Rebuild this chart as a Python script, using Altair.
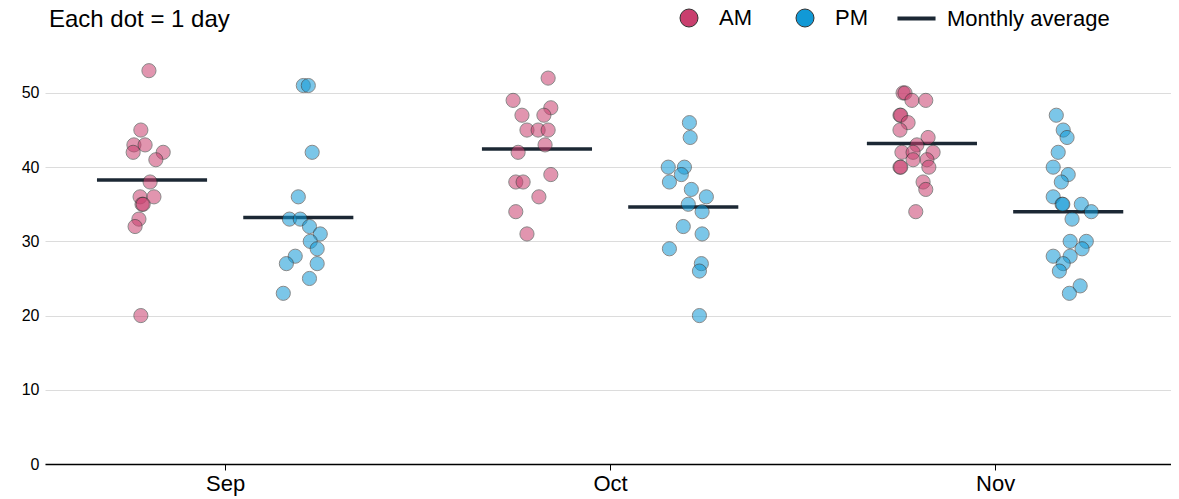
import altair as alt
import pandas as pd

title_text = "Each dot = 1 day"
months = ["Sep", "Oct", "Nov"]
periods = ["AM", "PM"]
avg_label = "Monthly average"

# values (one dot per day)
sep_am = [53, 45, 43, 43, 42, 42, 41, 38, 36, 36, 35, 35, 33, 32, 20]
sep_pm = [51, 51, 42, 36, 33, 33, 32, 31, 30, 29, 28, 27, 27, 25, 23]
oct_am = [52, 49, 48, 47, 47, 45, 45, 45, 43, 42, 39, 38, 38, 36, 34, 31]
oct_pm = [46, 44, 40, 40, 39, 38, 37, 36, 35, 34, 32, 31, 29, 27, 26, 20]
nov_am = [50, 50, 49, 49, 47, 47, 46, 45, 44, 43, 42, 42, 42, 41, 41, 40, 40, 40, 38, 37, 34]
nov_pm = [47, 45, 44, 42, 40, 39, 38, 36, 35, 35, 35, 34, 33, 30, 30, 29, 28, 28, 27, 26, 24, 23]

# horizontal jitter of each dot (fraction of month spacing)
sep_am_jit = [-0.008, -0.029, -0.047, -0.018, -0.049, 0.029, 0.010, -0.005, -0.031, 0.005, -0.026, -0.023, -0.034, -0.044, -0.029]
sep_pm_jit = [0.013, 0.026, 0.036, 0.0, -0.023, 0.005, 0.029, 0.057, 0.031, 0.049, -0.008, -0.031, 0.049, 0.029, -0.039]
oct_am_jit = [0.029, -0.062, 0.036, 0.018, -0.039, -0.026, 0.003, 0.029, 0.021, -0.049, 0.036, -0.055, -0.036, 0.005, -0.055, -0.026]
oct_pm_jit = [0.016, 0.018, -0.039, 0.003, -0.005, -0.036, 0.021, 0.060, 0.013, 0.049, 0.0, 0.049, -0.036, 0.047, 0.042, 0.042]
nov_am_jit = [-0.049, -0.044, -0.026, 0.010, -0.057, -0.055, -0.036, -0.057, 0.016, -0.013, -0.052, -0.023, 0.029, 0.013, -0.023, 0.018, -0.057, -0.055, 0.003, 0.010, -0.016]
nov_pm_jit = [-0.031, -0.013, -0.003, -0.026, -0.039, 0.0, -0.018, -0.039, -0.016, -0.014, 0.034, 0.060, 0.010, 0.005, 0.047, 0.036, -0.039, 0.005, -0.013, -0.023, 0.031, 0.003]

groups = [
    ("Sep", "AM", sep_am, sep_am_jit),
    ("Sep", "PM", sep_pm, sep_pm_jit),
    ("Oct", "AM", oct_am, oct_am_jit),
    ("Oct", "PM", oct_pm, oct_pm_jit),
    ("Nov", "AM", nov_am, nov_am_jit),
    ("Nov", "PM", nov_pm, nov_pm_jit),
]
rows = []
for month, period, vals, jits in groups:
    for v, j in zip(vals, jits):
        rows.append({"m": months.index(month), "period": period, "value": v, "jitter": j})
df = pd.DataFrame(rows)

AM_COLOR = "#c93f6e"
PM_COLOR = "#1199d6"
LINE_COLOR = "#1c2834"
FONT = "Liberation Sans"

x_scale = alt.Scale(domain=[-0.468, 2.457], nice=False, zero=False)
y_scale = alt.Scale(domain=[0, 57], nice=False)

label_expr = "[" + ",".join("'" + m + "'" for m in months) + "][datum.value]"

x_axis = alt.Axis(values=list(range(len(months))), labelExpr=label_expr, title=None,
                  grid=False, domainColor="#000000", domainWidth=1.5,
                  tickColor="#000000", tickSize=6, tickWidth=1,
                  labelFontSize=22, labelColor="#000000", labelPadding=3, labelFont=FONT)
y_axis = alt.Axis(values=[0, 10, 20, 30, 40, 50], title=None, domain=False, ticks=False,
                  grid=True, gridColor="#dcdcdc", gridWidth=1,
                  labelFontSize=16, labelColor="#000000", labelPadding=6, labelFont=FONT)

base = alt.Chart(df)

points = base.transform_calculate(
    xpos="datum.m + (datum.period == 'AM' ? -0.19 : 0.19) + datum.jitter"
).mark_circle(size=200, opacity=0.55, stroke="#2a2a2a", strokeWidth=1).encode(
    x=alt.X("xpos:Q", scale=x_scale, axis=x_axis),
    y=alt.Y("value:Q", scale=y_scale, axis=y_axis),
    fill=alt.Fill("period:N", scale=alt.Scale(domain=periods, range=[AM_COLOR, PM_COLOR]),
                  legend=alt.Legend(title=None, orient="none", direction="horizontal",
                                    legendX=633, legendY=-34, padding=0,
                                    symbolType="circle", symbolSize=324,
                                    symbolOpacity=1,
                                    symbolStrokeColor="#333333", symbolStrokeWidth=1,
                                    labelFontSize=22, labelFont=FONT, labelColor="#000000",
                                    labelLimit=300, labelOffset=19, columnPadding=42)),
)

means = base.transform_aggregate(
    avg="mean(value)", groupby=["m", "period"]
).transform_calculate(
    xc="datum.m + (datum.period == 'AM' ? -0.19 : 0.19)",
    x1="datum.xc - 0.143",
    x2="datum.xc + 0.143",
    series="'" + avg_label + "'",
).mark_rule(strokeWidth=3.5).encode(
    x=alt.X("x1:Q", scale=x_scale, axis=x_axis),
    x2="x2:Q",
    y=alt.Y("avg:Q", scale=y_scale, axis=y_axis),
    stroke=alt.Stroke("series:N", scale=alt.Scale(domain=[avg_label], range=[LINE_COLOR]),
                      legend=alt.Legend(title=None, orient="none", legendX=850, legendY=-44,
                                        padding=0, symbolType="stroke", symbolSize=1450,
                                        symbolStrokeWidth=4, symbolStrokeColor=LINE_COLOR,
                                        labelFontSize=22, labelFont=FONT, labelColor="#000000",
                                        labelLimit=400, labelOffset=9)),
)

title_mark = alt.Chart(pd.DataFrame({"t": [title_text]})).mark_text(
    align="left", baseline="alphabetic", fontSize=24, font=FONT, color="#000000"
).encode(text="t:N", x=alt.value(4), y=alt.value(-14))

chart = alt.layer(means, points, title_mark).properties(
    width=1126,
    height=423,
    autosize=alt.AutoSizeParams(type="none"),
    padding={"left": 37, "top": 33, "right": 0, "bottom": 34},
).configure_view(stroke=None).resolve_scale(fill="independent", stroke="independent")

chart.save("out.html", embed_options={"renderer": "svg", "actions": False})
